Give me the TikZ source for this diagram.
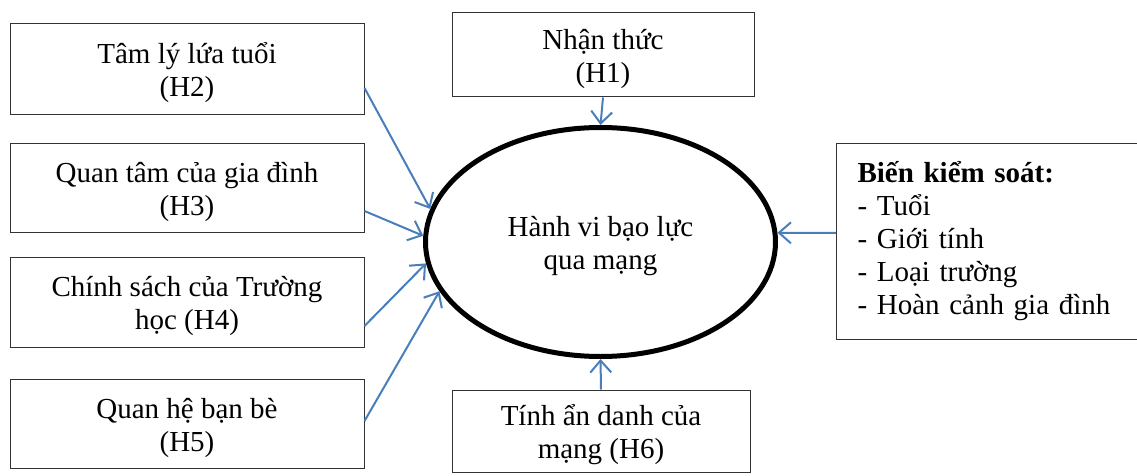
\documentclass[tikz,border=0pt]{standalone}
\usepackage{fontspec}
\setmainfont{Liberation Serif}
\usetikzlibrary{shapes.geometric,arrows.meta}
\definecolor{linkblue}{HTML}{4A7EBB}
\definecolor{boxline}{HTML}{333333}
\tikzset{
  bodytext/.style={font=\fontsize{29}{33}\selectfont},
  % fixed box for two-line labels so the last baseline sits at a set depth
  twoline/.style={text height=60pt, text depth=5pt},
  factor/.style={draw=boxline, line width=1pt, rectangle, align=center,
    bodytext, inner sep=0pt},
  outcome/.style={draw=black, line width=5pt, ellipse, align=center,
    minimum width=350pt, minimum height=229pt, bodytext, twoline},
  link/.style={draw=linkblue, line width=2pt,
    -{Straight Barb[length=12pt,width=21pt,line width=2pt]}},
}
\begin{document}
\begin{tikzpicture}[x=1pt,y=-1pt]
  \useasboundingbox (0,0) rectangle (1137,476);

  % central construct
  \node[outcome] (hv) at (600.5,242) {Hành vi bạo lực\\qua mạng};

  % hypothesised factors
  \node[factor, twoline, minimum width=354pt, minimum height=91pt] (h2) at (187,69.5) {Tâm lý lứa tuổi\\(H2)};
  \node[factor, twoline, minimum width=354pt, minimum height=89pt] (h3) at (187,187.5) {Quan tâm của gia đình\\(H3)};
  \node[factor, twoline, minimum width=354pt, minimum height=90pt] (h4) at (187,302) {Chính sách của Trường\\học (H4)};
  \node[factor, twoline, minimum width=354pt, minimum height=89pt] (h5) at (187,423.5) {Quan hệ bạn bè\\(H5)};
  \node[factor, twoline, minimum width=302pt, minimum height=84pt] (h1) at (603,55) {Nhận thức\\(H1)};
  \node[factor, twoline, minimum width=298pt, minimum height=82pt] (h6) at (601,431) {Tính ẩn danh của\\mạng (H6)};

  % control variables
  \node[factor, align=left, text width=260pt, inner xsep=21pt, minimum height=196pt] (cv) at (987.5,241)
    {\textbf{Biến kiểm soát:}\\- Tuổi\\- Giới tính\\- Loại trường\\- Hoàn cảnh gia đình};

  % paths into the construct
  \draw[link] (h1.south) -- (hv.north);
  \draw[link] (h6.north) -- (hv.south);
  \draw[link] ([yshift=8pt]cv.west) -- (hv.3);
  \draw[link] ([yshift=-18.5pt]h2.east) -- (hv.169);
  \draw[link] ([yshift=-23.5pt]h3.east) -- (hv.178.7);
  \draw[link] ([yshift=-24pt]h4.east) -- (hv.187);
  \draw[link] ([yshift=2.5pt]h5.east) -- (hv.197);
\end{tikzpicture}
\end{document}
